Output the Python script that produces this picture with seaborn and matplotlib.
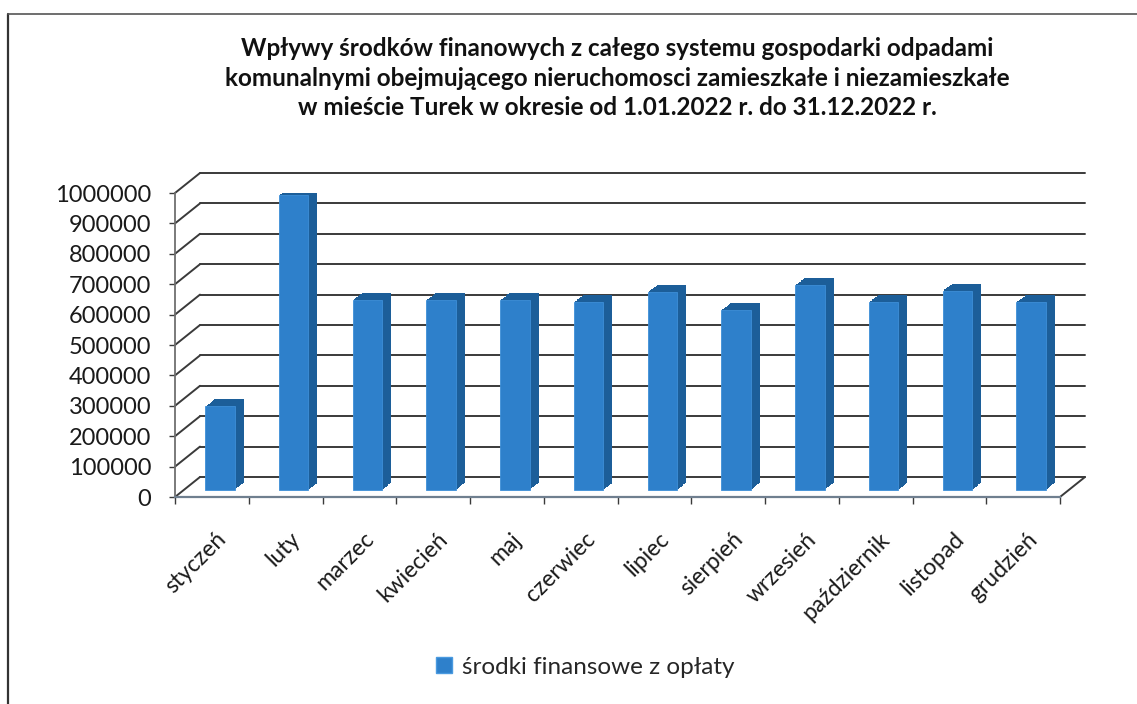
import matplotlib
matplotlib.use("Agg")
import matplotlib.pyplot as plt
import matplotlib.patheffects as pe
from matplotlib.transforms import ScaledTranslation
from matplotlib.patches import Patch
from matplotlib.lines import Line2D
from matplotlib.ticker import FuncFormatter
import seaborn as sns
import numpy as np

TITLE = ("Wpływy środków finanowych z całego systemu gospodarki odpadami\n"
         "komunalnymi obejmującego nieruchomosci zamieszkałe i niezamieszkałe\n"
         "w mieście Turek w okresie od 1.01.2022 r. do 31.12.2022 r.")
SERIES = "środki finansowe z opłaty"
months = ["styczeń", "luty", "marzec", "kwiecień", "maj", "czerwiec",
          "lipiec", "sierpień", "wrzesień", "październik", "listopad", "grudzień"]
values = [275000, 970000, 625000, 625000, 625000, 618000,
          651000, 592000, 674000, 618000, 655000, 618000]
yticks = list(range(0, 1000001, 100000))

FACE = "#2e80cb"
SIDE = "#1c5e99"
GRID = "#3a3a3a"
FONT = "Lato"

sns.set_theme(style="white")
plt.rcParams["font.family"] = [FONT, "DejaVu Sans"]

W, H = 1137, 704
fig = plt.figure(figsize=(W / 100, H / 100), dpi=100)
ax_l, ax_r, ax_b, ax_t = 175, 1060, 497, 193
ax = fig.add_axes([ax_l / W, 1 - ax_b / H, (ax_r - ax_l) / W, (ax_b - ax_t) / H])

sns.barplot(x=months, y=values, color=FACE, saturation=1, width=0.4, ax=ax, zorder=3)
ax.set_ylim(0, 1000000)
ax.set_xlim(-0.5, len(months) - 0.5)

# pseudo 3D depth: back wall offset (pixels)
dx_px, dy_px = 25, 20
dx_ax = dx_px / (ax_r - ax_l)
dy_ax = dy_px / (ax_b - ax_t)
for v in yticks:
    yv = v / 1000000
    ax.plot([dx_ax, 1 + dx_ax], [yv + dy_ax, yv + dy_ax], transform=ax.transAxes,
            color=GRID, lw=1.4, clip_on=False, zorder=1)
    ax.plot([0, dx_ax], [yv, yv + dy_ax], transform=ax.transAxes,
            color=GRID, lw=1.4, clip_on=False, zorder=1)
ax.plot([1, 1 + dx_ax], [0, dy_ax], transform=ax.transAxes,
        color=GRID, lw=1.4, clip_on=False, zorder=1)

# extrude bars
shift = ScaledTranslation(8 / 100, 7 / 100, fig.dpi_scale_trans)
steps = 10
effects = [pe.SimplePatchShadow(offset=(6.5 * i / steps, 5.0 * i / steps),
                                shadow_rgbFace=SIDE, alpha=1)
           for i in range(steps, 0, -1)] + [pe.Normal()]
for p in ax.patches:
    p.set_transform(ax.transData + shift)
    p.set_edgecolor("#3d8fd8")
    p.set_linewidth(0.6)
    p.set_path_effects(effects)

ax.yaxis.set_major_formatter(FuncFormatter(lambda v, pos: f"{int(v)}"))
ax.set_yticks(yticks)
ax.tick_params(axis="y", labelsize=17, length=4, width=1, color=GRID,
               pad=13, left=True, labelcolor="#1a1a1a")
ax.set_xticks(np.arange(-0.5, len(months), 1), minor=True)
ax.tick_params(axis="x", which="minor", length=5, width=1, color=GRID, bottom=True)
ax.tick_params(axis="x", which="major", length=0, pad=28, labelsize=16.5,
               labelcolor="#1a1a1a")
lab_shift = ScaledTranslation(11 / 100, 0, fig.dpi_scale_trans)
for lab in ax.get_xticklabels():
    lab.set_rotation(45)
    lab.set_ha("right")
    lab.set_va("center")
    lab.set_rotation_mode("anchor")
    lab.set_transform(lab.get_transform() + lab_shift)
ax.set_xlabel("")
ax.set_ylabel("")

for side in ["top", "right"]:
    ax.spines[side].set_visible(False)
ax.spines["left"].set_color("#707070")
ax.spines["bottom"].set_color("#6f7f8f")
ax.spines["left"].set_linewidth(1.3)
ax.spines["bottom"].set_linewidth(1.6)
ax.set_facecolor("none")

fig.text(617 / W, 1 - 78 / H, TITLE, ha="center", va="center", fontsize=17.5,
         fontweight="bold", color="#111111", linespacing=1.32)

handle = Patch(facecolor=FACE, edgecolor="#4a9ae0")
fig.legend(handles=[handle], labels=[SERIES], loc="center",
           bbox_to_anchor=(585 / W, 1 - 667 / H), frameon=False, fontsize=17.5,
           handlelength=0.65, handleheight=0.65, handletextpad=0.4)

# page frame of the scan
fig.add_artist(Line2D([8 / W, 8 / W], [0, 1 - 14 / H], transform=fig.transFigure,
                      color="#333333", lw=1.6))
fig.add_artist(Line2D([8 / W, 1], [1 - 14 / H, 1 - 14 / H], transform=fig.transFigure,
                      color="#555555", lw=1.2))

fig.savefig("out.png", dpi=100, facecolor="white")
